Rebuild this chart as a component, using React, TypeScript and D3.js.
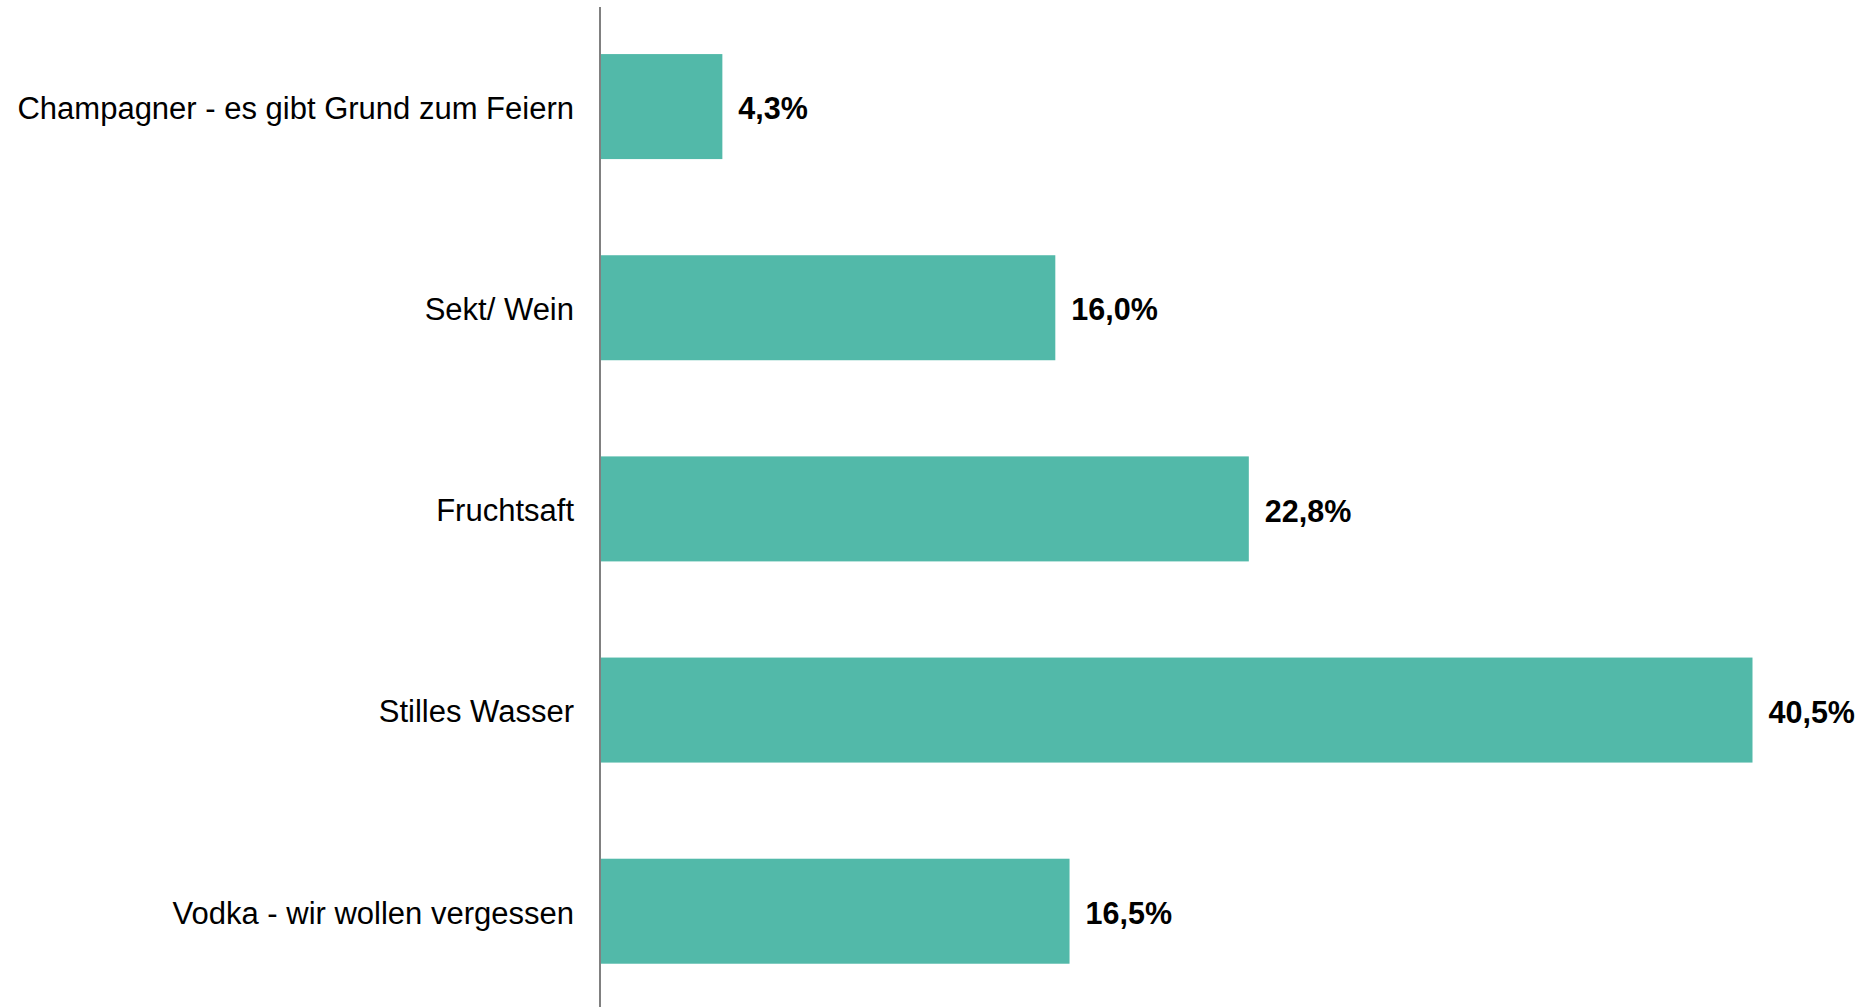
import { useRef, useEffect } from "react"
import * as d3 from "d3"

const categories = [
  "Champagner - es gibt Grund zum Feiern",
  "Sekt/ Wein",
  "Fruchtsaft",
  "Stilles Wasser",
  "Vodka - wir wollen vergessen",
]
const values = [4.3, 16.0, 22.8, 40.5, 16.5]

export default function App() {
  const svgRef = useRef<SVGSVGElement>(null)
  const width = 1867
  const height = 1007

  useEffect(() => {
    const svg = d3.select(svgRef.current)
    svg.selectAll("*").remove()
    svg.attr("width", width).attr("height", height)

    const axisX = 600
    const data = categories.map((c, i) => ({ label: c, value: values[i] }))

    const xScale = d3.scaleLinear().domain([0, 40.5]).range([axisX, 1752.5])
    const yScale = d3.scaleBand()
      .domain(categories)
      .range([6, 1011.8])
      .paddingInner(0.478)
      .paddingOuter(0.239)

    svg.selectAll("rect.bar")
      .data(data)
      .enter()
      .append("rect")
      .attr("class", "bar")
      .attr("x", xScale(0))
      .attr("y", d => yScale(d.label)!)
      .attr("width", d => xScale(d.value) - xScale(0))
      .attr("height", yScale.bandwidth())
      .style("fill", "#52b9a9")

    svg.append("line")
      .attr("x1", axisX).attr("x2", axisX)
      .attr("y1", 7).attr("y2", height)
      .style("stroke", "#808080")
      .style("stroke-width", 2)

    svg.selectAll("text.cat")
      .data(data)
      .enter()
      .append("text")
      .attr("class", "cat")
      .attr("x", 574)
      .attr("y", d => yScale(d.label)! + yScale.bandwidth() / 2 + 1.5)
      .attr("dy", "0.35em")
      .attr("text-anchor", "end")
      .style("font-family", "'Liberation Sans', Arial, sans-serif")
      .style("font-size", "31px")
      .style("fill", "#000")
      .text(d => d.label)

    svg.selectAll("text.val")
      .data(data)
      .enter()
      .append("text")
      .attr("class", "val")
      .attr("x", d => xScale(d.value) + 16)
      .attr("y", d => yScale(d.label)! + yScale.bandwidth() / 2 + 2)
      .attr("dy", "0.35em")
      .style("font-family", "'Liberation Sans', Arial, sans-serif")
      .style("font-size", "30.5px")
      .style("font-weight", "bold")
      .style("fill", "#000")
      .text(d => d.value.toFixed(1).replace(".", ",") + "%")
  }, [])

  return (
    <div style={{ position: "absolute", left: 0, top: 0 }}>
      <svg ref={svgRef} style={{ display: "block" }}></svg>
    </div>
  )
}
